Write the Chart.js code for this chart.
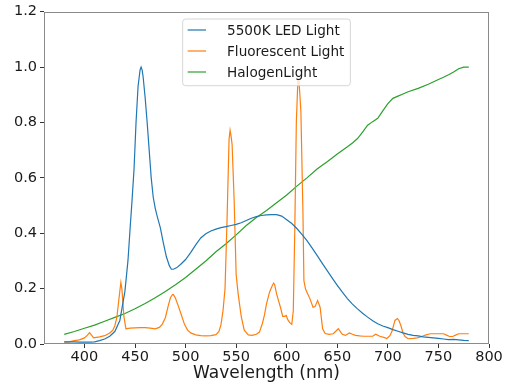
<!DOCTYPE html>
<html>
<head>
<meta charset="utf-8">
<script src="https://cdn.jsdelivr.net/npm/chart.js@4.4.1/dist/chart.umd.min.js"></script>
<style>
html,body{margin:0;padding:0;background:#fff;}
#wrap{width:508px;height:385px;}
</style>
</head>
<body>
<div id="wrap"><canvas id="c" width="508" height="385"></canvas></div>
<script>
// ---- data ----
const seriesLabels = ["5500K LED Light", "Fluorescent Light", "HalogenLight"];

const ledWavelengths = [380,385,390,395,400,405,410,415,420,425,430,435,440,443,445,447,449,451,453,455,456,457,458,460,462,464,466,468,470,472,475,478,481,484,486,488,491,495,500,505,510,515,520,525,530,535,540,545,550,555,560,565,570,575,580,585,590,595,600,605,610,615,620,625,630,635,640,645,650,655,660,665,670,675,680,685,690,695,700,705,710,715,720,725,730,735,740,745,750,755,760,765,770,775,780];
const ledValues = [0.008,0.008,0.008,0.007,0.007,0.007,0.008,0.012,0.018,0.028,0.045,0.085,0.19,0.30,0.41,0.516,0.63,0.80,0.93,0.99,1.0,0.99,0.965,0.89,0.80,0.70,0.60,0.53,0.49,0.46,0.42,0.365,0.315,0.282,0.27,0.27,0.275,0.287,0.305,0.33,0.358,0.383,0.398,0.408,0.415,0.42,0.424,0.428,0.432,0.438,0.446,0.454,0.46,0.464,0.466,0.467,0.467,0.462,0.449,0.435,0.417,0.396,0.373,0.347,0.32,0.292,0.265,0.238,0.212,0.187,0.164,0.144,0.127,0.111,0.097,0.084,0.073,0.065,0.059,0.052,0.046,0.04,0.035,0.031,0.029,0.026,0.024,0.022,0.02,0.018,0.016,0.017,0.015,0.013,0.012];

const fluorWavelengths = [380,385,390,395,400,403,405,407,409,412,415,420,425,428,430,432,434,436,437,439,441,445,450,455,460,465,470,474,477,480,483,485,487,488,490,493,496,499,502,505,510,515,520,525,530,533,535,537,539,541,543,544,545,546,548,550,552,555,558,562,566,570,573,576,578,580,583,585,587,588,590,592,594,596,598,599.5,601,603,605,606.5,608,609.5,611,612,613,614,616,617,618.5,620,623,626,628,630.5,633,635.5,638,642,646,649,651,653,655,658,662,665,668,672,676,680,685,688,692,696,699,702,704,707,709.5,711,713,715,717,720,725,729,733,737,742,748,755,758,761,764,767,770,775,780];
const fluorValues = [0.007,0.008,0.012,0.015,0.022,0.032,0.041,0.032,0.022,0.024,0.026,0.03,0.04,0.05,0.065,0.095,0.16,0.222,0.2,0.1,0.055,0.057,0.058,0.059,0.059,0.057,0.055,0.06,0.072,0.095,0.14,0.167,0.178,0.178,0.165,0.135,0.103,0.07,0.05,0.04,0.033,0.03,0.029,0.03,0.034,0.045,0.07,0.12,0.2,0.45,0.74,0.772,0.75,0.72,0.52,0.25,0.18,0.1,0.05,0.033,0.031,0.035,0.043,0.075,0.105,0.145,0.187,0.205,0.22,0.215,0.181,0.155,0.13,0.1,0.1,0.103,0.088,0.077,0.071,0.12,0.42,0.8,0.95,0.955,0.9,0.84,0.48,0.229,0.2,0.187,0.163,0.133,0.135,0.157,0.133,0.055,0.038,0.035,0.037,0.048,0.055,0.045,0.035,0.031,0.04,0.035,0.031,0.029,0.028,0.028,0.028,0.035,0.028,0.024,0.02,0.03,0.045,0.085,0.092,0.085,0.065,0.04,0.027,0.019,0.02,0.022,0.026,0.032,0.037,0.037,0.037,0.032,0.027,0.027,0.032,0.037,0.037,0.037];

const halogenWavelengths = [380,390,400,410,420,430,440,450,460,470,480,490,500,510,520,530,540,550,560,570,580,590,600,610,620,630,640,650,660,665,670,675,680,685,690,695,700,705,710,715,720,730,740,750,755,760,765,770,775,780];
const halogenValues = [0.035,0.045,0.057,0.068,0.082,0.096,0.11,0.127,0.146,0.167,0.19,0.214,0.24,0.27,0.30,0.333,0.362,0.394,0.428,0.457,0.482,0.51,0.538,0.57,0.60,0.632,0.658,0.686,0.712,0.726,0.742,0.765,0.79,0.803,0.815,0.842,0.868,0.887,0.895,0.903,0.911,0.923,0.938,0.955,0.963,0.972,0.982,0.994,1.0,1.0];

const xTickValues = [400,450,500,550,600,650,700,750,800];
const yTickValues = [0.0,0.2,0.4,0.6,0.8,1.0,1.2];
const xAxisTitle = "Wavelength (nm)";

// ---- build chart ----
const FONT = '"DejaVu Sans", "Liberation Sans", sans-serif';
const colors = ["#1f77b4", "#ff7f0e", "#2ca02c"];
function pts(xs, ys){ return xs.map((x,i)=>({x:x, y:ys[i]})); }

const frameAndLegend = {
  id: 'frameAndLegend',
  afterDatasetsDraw(chart){
    const ctx = chart.ctx, a = chart.chartArea;
    ctx.save();
    // axes frame
    ctx.strokeStyle = '#8a8a8a';
    ctx.lineWidth = 1;
    ctx.strokeRect(Math.round(a.left)+0.5, Math.round(a.top)+0.5, Math.round(a.right-a.left)-1, Math.round(a.bottom-a.top)-1);
    // legend
    ctx.font = '13.6px ' + FONT;
    const ds = chart.data.datasets;
    let maxW = 0;
    ds.forEach(d => { maxW = Math.max(maxW, ctx.measureText(d.label).width); });
    const textOff = 44.4, w = textOff + maxW + 6, h = 66.7;
    const x = (a.left + a.right)/2 - w/2, y = a.top + 7.3;
    ctx.beginPath();
    if (ctx.roundRect) ctx.roundRect(x, y, w, h, 3); else ctx.rect(x, y, w, h);
    ctx.fillStyle = 'rgba(255,255,255,0.8)';
    ctx.fill();
    ctx.strokeStyle = 'rgba(204,204,204,0.8)';
    ctx.lineWidth = 1;
    ctx.stroke();
    ds.forEach((d, i) => {
      const cy = y + 11 + i*21;
      ctx.beginPath();
      ctx.moveTo(x + 5, cy);
      ctx.lineTo(x + 23.4, cy);
      ctx.strokeStyle = d.borderColor;
      ctx.lineWidth = 1.2;
      ctx.stroke();
      ctx.fillStyle = '#1a1a1a';
      ctx.textBaseline = 'middle';
      ctx.textAlign = 'left';
      ctx.fillText(d.label, x + textOff, cy + 1);
    });
    ctx.restore();
  }
};

new Chart(document.getElementById('c'), {
  type: 'line',
  data: {
    datasets: [
      { label: seriesLabels[0], data: pts(ledWavelengths, ledValues), borderColor: colors[0] },
      { label: seriesLabels[1], data: pts(fluorWavelengths, fluorValues), borderColor: colors[1] },
      { label: seriesLabels[2], data: pts(halogenWavelengths, halogenValues), borderColor: colors[2] }
    ]
  },
  options: {
    responsive: false,
    animation: false,
    devicePixelRatio: 1,
    layout: { padding: { left: 0, right: 19, top: 10, bottom: 0 } },
    elements: {
      point: { radius: 0 },
      line: { borderWidth: 1.2, tension: 0, fill: false }
    },
    plugins: { legend: { display: false }, tooltip: { enabled: false } },
    scales: {
      x: {
        type: 'linear',
        min: 360, max: 800,
        afterBuildTicks: s => { s.ticks = xTickValues.map(v => ({ value: v })); },
        afterFit: s => { s.height = 41; },
        grid: { display: true, drawOnChartArea: false, drawTicks: true, tickLength: 4, color: '#333' },
        border: { display: false },
        ticks: { padding: 1, color: '#1a1a1a', font: { family: FONT, size: 14.5 }, maxRotation: 0, autoSkip: false },
        title: { display: true, text: xAxisTitle, color: '#1a1a1a', font: { family: FONT, size: 17 }, padding: { top: 0, bottom: 1 } }
      },
      y: {
        min: 0, max: 1.2,
        afterBuildTicks: s => { s.ticks = yTickValues.map(v => ({ value: v })); },
        afterFit: s => { s.width = 44; },
        grid: { display: true, drawOnChartArea: false, drawTicks: true, tickLength: 4, color: '#333' },
        border: { display: false },
        ticks: { padding: 3, color: '#1a1a1a', font: { family: FONT, size: 14.5 }, callback: v => Number(v).toFixed(1), autoSkip: false }
      }
    }
  },
  plugins: [frameAndLegend]
});
</script>
</body>
</html>
